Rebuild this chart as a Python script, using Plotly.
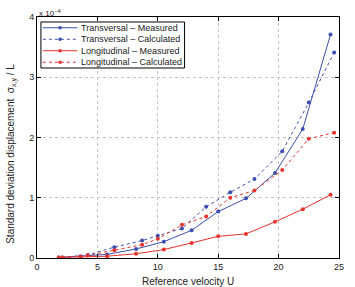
import plotly.graph_objects as go

# Data (sigma values in units of 1e-4)
u_meas = [1.8, 3.6, 5.8, 8.2, 10.5, 12.8, 15.0, 17.3, 19.7, 22.0, 24.3]
u_calc = [2.1, 4.2, 6.4, 8.7, 10.0, 12.0, 14.0, 16.0, 18.0, 20.3, 22.5, 24.6]
trans_meas = [0.01, 0.03, 0.06, 0.15, 0.27, 0.46, 0.77, 0.99, 1.41, 2.14, 3.71]
trans_calc = [0.01, 0.05, 0.18, 0.29, 0.37, 0.49, 0.85, 1.09, 1.31, 1.77, 2.58, 3.41]
long_meas = [0.01, 0.02, 0.03, 0.07, 0.14, 0.25, 0.36, 0.40, 0.60, 0.81, 1.05]
long_calc = [0.01, 0.04, 0.13, 0.22, 0.32, 0.55, 0.69, 1.00, 1.12, 1.46, 1.98, 2.08]

x_ticks = [0, 5, 10, 15, 20, 25]
y_ticks = [0, 1, 2, 3, 4]

BLUE = "#3d4fae"
RED = "#e5332e"
FONT = "Liberation Sans, Arial, sans-serif"

W, H = 355, 287
ML, MR, MT, MB = 37, 11, 17, 29
PW, PH = W - ML - MR, H - MT - MB


def px_to_paper(px, py):
    return (px - ML) / PW, (H - MB - py) / PH


fig = go.Figure()
series = [
    ("Transversal – Measured", u_meas, trans_meas, BLUE, "solid"),
    ("Transversal – Calculated", u_calc, trans_calc, BLUE, "dot"),
    ("Longitudinal – Measured", u_meas, long_meas, RED, "solid"),
    ("Longitudinal – Calculated", u_calc, long_calc, RED, "dot"),
]
for name, xs, ys, col, dash in series:
    fig.add_trace(go.Scatter(
        x=xs, y=ys, name=name, mode="lines+markers",
        line=dict(color=col, width=1, dash=dash),
        marker=dict(color=col, size=4),
        showlegend=False,
    ))

axis_common = dict(
    showline=True, linecolor="black", linewidth=1, mirror="ticks",
    ticks="inside", ticklen=4, tickcolor="black",
    showgrid=True, gridcolor="#c4c4c4", griddash="dot", gridwidth=1,
    zeroline=False, tickfont=dict(family=FONT, size=9, color="#222"),
)

# Compact MATLAB-style legend drawn with shapes + annotations
shapes = []
annotations = []
bx0, by0 = px_to_paper(41, 22)
bx1, by1 = px_to_paper(187, 68)
shapes.append(dict(type="rect", xref="paper", yref="paper",
                   x0=bx0, x1=bx1, y0=by1, y1=by0,
                   line=dict(color="black", width=1), fillcolor="white",
                   layer="above"))
row_h = 46 / 4
for i, (name, xs, ys, col, dash) in enumerate(series):
    cy = 22 + row_h * (i + 0.5)
    lx0, ly = px_to_paper(43, cy)
    lx1, _ = px_to_paper(78, cy)
    mx, _ = px_to_paper(60.5, cy)
    tx, _ = px_to_paper(80, cy)
    shapes.append(dict(type="line", xref="paper", yref="paper",
                       x0=lx0, x1=lx1, y0=ly, y1=ly,
                       line=dict(color=col, width=1, dash=dash), layer="above"))
    shapes.append(dict(type="circle", xref="paper", yref="paper",
                       xsizemode="pixel", ysizemode="pixel",
                       xanchor=mx, yanchor=ly, x0=-1.8, x1=1.8, y0=-1.8, y1=1.8,
                       fillcolor=col, line=dict(color=col, width=0), layer="above"))
    annotations.append(dict(text=name, xref="paper", yref="paper",
                            x=tx, y=ly, xanchor="left", yanchor="middle",
                            showarrow=False,
                            font=dict(family=FONT, size=9, color="#222")))

annotations += [
    dict(text="Reference velocity U", xref="paper", yref="paper",
         x=0.5, y=0, xanchor="center", yanchor="top", yshift=-16,
         showarrow=False, font=dict(family=FONT, size=10, color="#222")),
    dict(text="Standard deviation displacement  σ<sub>x,y</sub> / L",
         xref="paper", yref="paper", x=-0.083, y=0.432,
         xanchor="center", yanchor="middle", textangle=-90,
         showarrow=False, font=dict(family=FONT, size=10, color="#222")),
    dict(text="x 10<sup>−4</sup>", xref="paper", yref="paper",
         x=0.0, y=1.0, xanchor="left", yanchor="bottom", yshift=-3,
         showarrow=False, font=dict(family=FONT, size=8, color="#222")),
]

fig.update_layout(
    width=W, height=H,
    margin=dict(l=ML, r=MR, t=MT, b=MB),
    paper_bgcolor="white", plot_bgcolor="white",
    font=dict(family=FONT, size=9, color="#222"),
    xaxis=dict(range=[0, 25], tickvals=x_ticks, **axis_common),
    yaxis=dict(range=[0, 4], tickvals=y_ticks, **axis_common),
    showlegend=False,
    shapes=shapes,
    annotations=annotations,
)

fig.write_html("out.html")
